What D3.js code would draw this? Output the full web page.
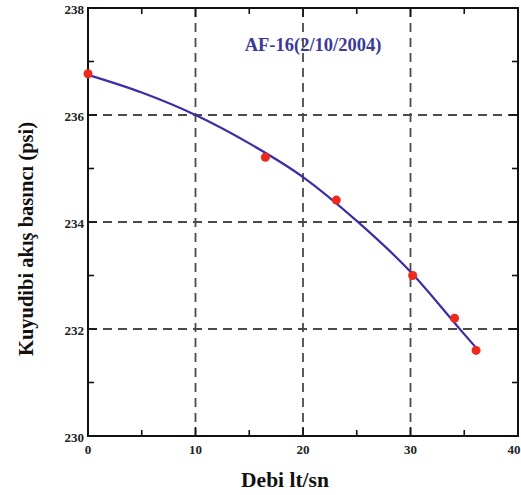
<!DOCTYPE html>
<html>
<head>
<meta charset="utf-8">
<script src="https://cdn.jsdelivr.net/npm/d3@7"></script>
<style>
  body { margin: 0; background: #fff; }
</style>
</head>
<body>
<script>
//------------ DATA ----------------------
const debi = [0, 16.5, 23.1, 30.2, 34.1, 36.1];
const basinc = [236.77, 235.21, 234.41, 233.0, 232.2, 231.6];

// fitted curve
const curveX = [0, 5, 10, 15, 20, 25, 30, 34.5, 36.1];
const curveY = [236.75, 236.42, 236.0, 235.47, 234.84, 234.02, 233.07, 232.02, 231.65];

const xTicks = [0, 10, 20, 30, 40];
const yTicks = [230, 232, 234, 236, 238];
const title = "AF-16(2/10/2004)";
//----------------------------------------

const width = 521, height = 495;
const margin = {left: 88, right: 3, top: 8, bottom: 59};
const serif = "Liberation Serif, Times New Roman, serif";

const svg = d3.select("body").append("svg")
    .attr("width", width)
    .attr("height", height)
    .attr("font-family", serif)
    .attr("font-weight", "bold");

const x = d3.scaleLinear().domain([0, 40]).range([margin.left, width - margin.right]);
const y = d3.scaleLinear().domain([230, 238]).range([height - margin.bottom, margin.top]);

//----------- GRID -------------
const grid = svg.append("g")
    .attr("stroke", "#4a4a4a")
    .attr("stroke-width", 1.8)
    .attr("stroke-dasharray", "9,6");

grid.selectAll(".gx").data(xTicks.slice(1, -1)).join("line")
    .attr("x1", d => x(d)).attr("x2", d => x(d))
    .attr("y1", y(238)).attr("y2", y(230));

grid.selectAll(".gy").data(yTicks.slice(1, -1)).join("line")
    .attr("y1", d => y(d)).attr("y2", d => y(d))
    .attr("x1", x(0)).attr("x2", x(40));

//----------- AXES (ticks inward on all 4 sides) -------------
const minorX = d3.range(5, 40, 10);
const minorY = d3.range(231, 238, 2);

function tickLines(g, vals, len, horizontal) {
  vals.forEach(v => {
    if (horizontal) {
      g.append("line").attr("x1", x(v)).attr("x2", x(v)).attr("y1", y(230)).attr("y2", y(230) - len);
      g.append("line").attr("x1", x(v)).attr("x2", x(v)).attr("y1", y(238)).attr("y2", y(238) + len);
    } else {
      g.append("line").attr("y1", y(v)).attr("y2", y(v)).attr("x1", x(0)).attr("x2", x(0) + len);
      g.append("line").attr("y1", y(v)).attr("y2", y(v)).attr("x1", x(40)).attr("x2", x(40) - len);
    }
  });
}

const ticks = svg.append("g").attr("stroke", "#111").attr("stroke-width", 1.6);
tickLines(ticks, xTicks, 9, true);
tickLines(ticks, minorX, 6, true);
tickLines(ticks, yTicks, 9, false);
tickLines(ticks, minorY, 6, false);

svg.append("rect")
    .attr("x", x(0)).attr("y", y(238))
    .attr("width", x(40) - x(0)).attr("height", y(230) - y(238))
    .attr("fill", "none").attr("stroke", "#111").attr("stroke-width", 2);

svg.selectAll(".xl").data(xTicks).join("text")
    .attr("x", d => Math.min(x(d), width - 7)).attr("y", y(230) + 18)
    .attr("text-anchor", "middle").attr("font-size", 13).attr("fill", "#222")
    .text(d => d);

svg.selectAll(".yl").data(yTicks).join("text")
    .attr("x", x(0) - 4).attr("y", d => y(d) + 5.5)
    .attr("text-anchor", "end").attr("font-size", 13).attr("fill", "#222")
    .text(d => d);

//----------- CURVE + POINTS -------------
const line = d3.line()
    .x(d => x(d[0])).y(d => y(d[1]))
    .curve(d3.curveMonotoneX);

svg.append("path")
    .datum(d3.zip(curveX, curveY))
    .attr("d", line)
    .attr("fill", "none")
    .attr("stroke", "#3b2da6")
    .attr("stroke-width", 2.2);

svg.selectAll(".pt").data(d3.zip(debi, basinc)).join("circle")
    .attr("cx", d => x(d[0])).attr("cy", d => y(d[1]))
    .attr("r", 4.5)
    .attr("fill", "#ee2a1f");

//----------- TEXTS -------------
svg.append("text")
    .attr("x", 313).attr("y", 51)
    .attr("text-anchor", "middle").attr("font-size", 18.5)
    .attr("fill", "#3b3a98")
    .text(title);

svg.append("text")
    .attr("x", 285).attr("y", 487)
    .attr("text-anchor", "middle").attr("font-size", 21.5).attr("fill", "#111")
    .text("Debi lt/sn");

svg.append("text")
    .attr("transform", "translate(33,239) rotate(-90)")
    .attr("text-anchor", "middle").attr("font-size", 20.5).attr("fill", "#111")
    .text("Kuyudibi akış basıncı (psi)");
</script>
</body>
</html>
